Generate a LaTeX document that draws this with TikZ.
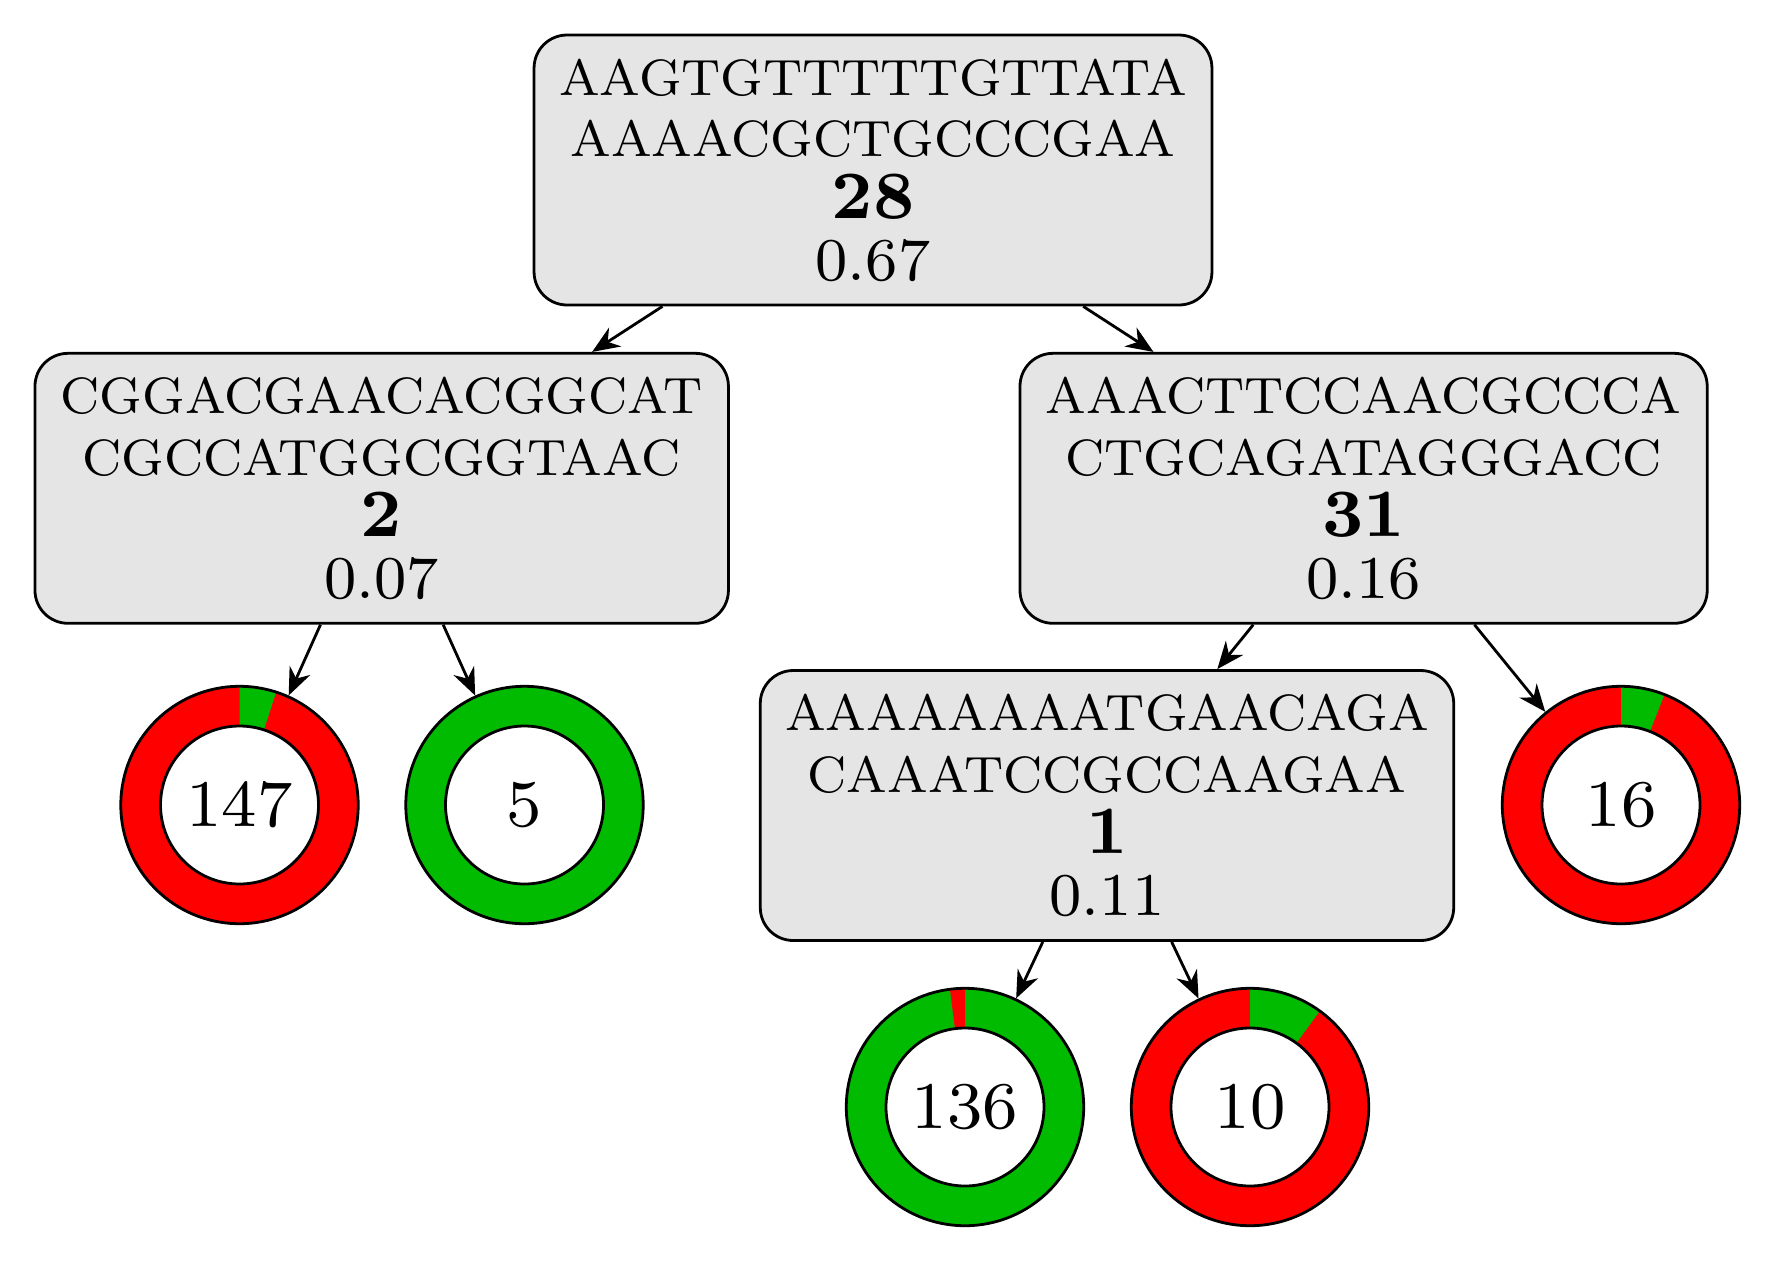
\documentclass[tikz,border=0pt]{standalone}
\usepackage{fontspec}
\newfontfamily\lmeight{lmroman8}[Extension=.otf, UprightFont=*-regular, BoldFont=*-bold]
\usetikzlibrary{arrows.meta}
\definecolor{pRed}{RGB}{255,0,0}
\definecolor{pGreen}{RGB}{0,187,0}
\definecolor{pGray}{RGB}{229,229,229}
\newcommand\donutR{118.7}
\newcommand\donutr{79}
\newcommand\bnum[1]{{\bfseries\fontsize{10.85}{9.9}\selectfont #1}}
\newcommand\pnum[1]{{\fontsize{9.75}{9.9}\selectfont #1}}
% #1 name, #2 position, #3 label, #4 base colour, #5 wedge colour, #6 wedge end angle
\newcommand\mkdonut[6]{%
  \fill[#4] (#2) circle[radius=\donutR];
  \fill[#5] (#2) -- ++(90:\donutR) arc[start angle=90, end angle=#6, radius=\donutR] -- cycle;
  \draw[thinline, fill=white] (#2) circle[radius=\donutr];
  \node[donutnode] (#1) at (#2) {#3};
}
\begin{document}
\begin{tikzpicture}[x=0.16064pt, y=0.16064pt,
  thinline/.style={line width=0.45pt},
  seqbox/.style={draw, thinline, fill=pGray, rounded corners=5.3pt,
    minimum height=43.37pt, inner xsep=1pt, inner ysep=0pt, align=center,
    font=\lmeight\fontsize{8.2}{9.9}\selectfont},
  donutnode/.style={circle, draw, thinline, minimum size=38.14pt, inner sep=0pt,
    font=\lmeight\fontsize{10.7}{12}\selectfont},
  conn/.style={thinline, -{Stealth[length=4.4pt, width=3.6pt]}}]
\useasboundingbox (0,0) rectangle (1790,1276);

% leaves
\mkdonut{c147}{239.5,471}{147}{pRed}{pGreen}{72}
\mkdonut{c5}{524.5,471}{5}{pGreen}{pGreen}{90}
\mkdonut{c16}{1621,471}{16}{pRed}{pGreen}{68.5}
\mkdonut{c136}{965,169}{136}{pGreen}{pRed}{97.3}
\mkdonut{c10}{1250,169}{10}{pRed}{pGreen}{54}

% inner nodes
\node[seqbox, minimum width=108.9pt] (top) at (873,1106)
  {AAGTGTTTTTGTTATA\\AAAACGCTGCCCGAA\\\bnum{28}\\\pnum{0.67}};
\node[seqbox, minimum width=111.4pt] (left) at (381.7,787.7)
  {CGGACGAACACGGCAT\\CGCCATGGCGGTAAC\\\bnum{2}\\\pnum{0.07}};
\node[seqbox, minimum width=110.4pt] (right) at (1363.6,787.7)
  {AAACTTCCAACGCCCA\\CTGCAGATAGGGACC\\\bnum{31}\\\pnum{0.16}};
\node[seqbox, minimum width=111.4pt] (mid) at (1107,470.5)
  {AAAAAAAATGAACAGA\\CAAATCCGCCAAGAA\\\bnum{1}\\\pnum{0.11}};

% connectors
\draw[conn] (top) -- (left);
\draw[conn] (top) -- (right);
\draw[conn] (left) -- (c147);
\draw[conn] (left) -- (c5);
\draw[conn] (right) -- (mid);
\draw[conn] (right) -- (c16);
\draw[conn] (mid) -- (c136);
\draw[conn] (mid) -- (c10);
\end{tikzpicture}
\end{document}
